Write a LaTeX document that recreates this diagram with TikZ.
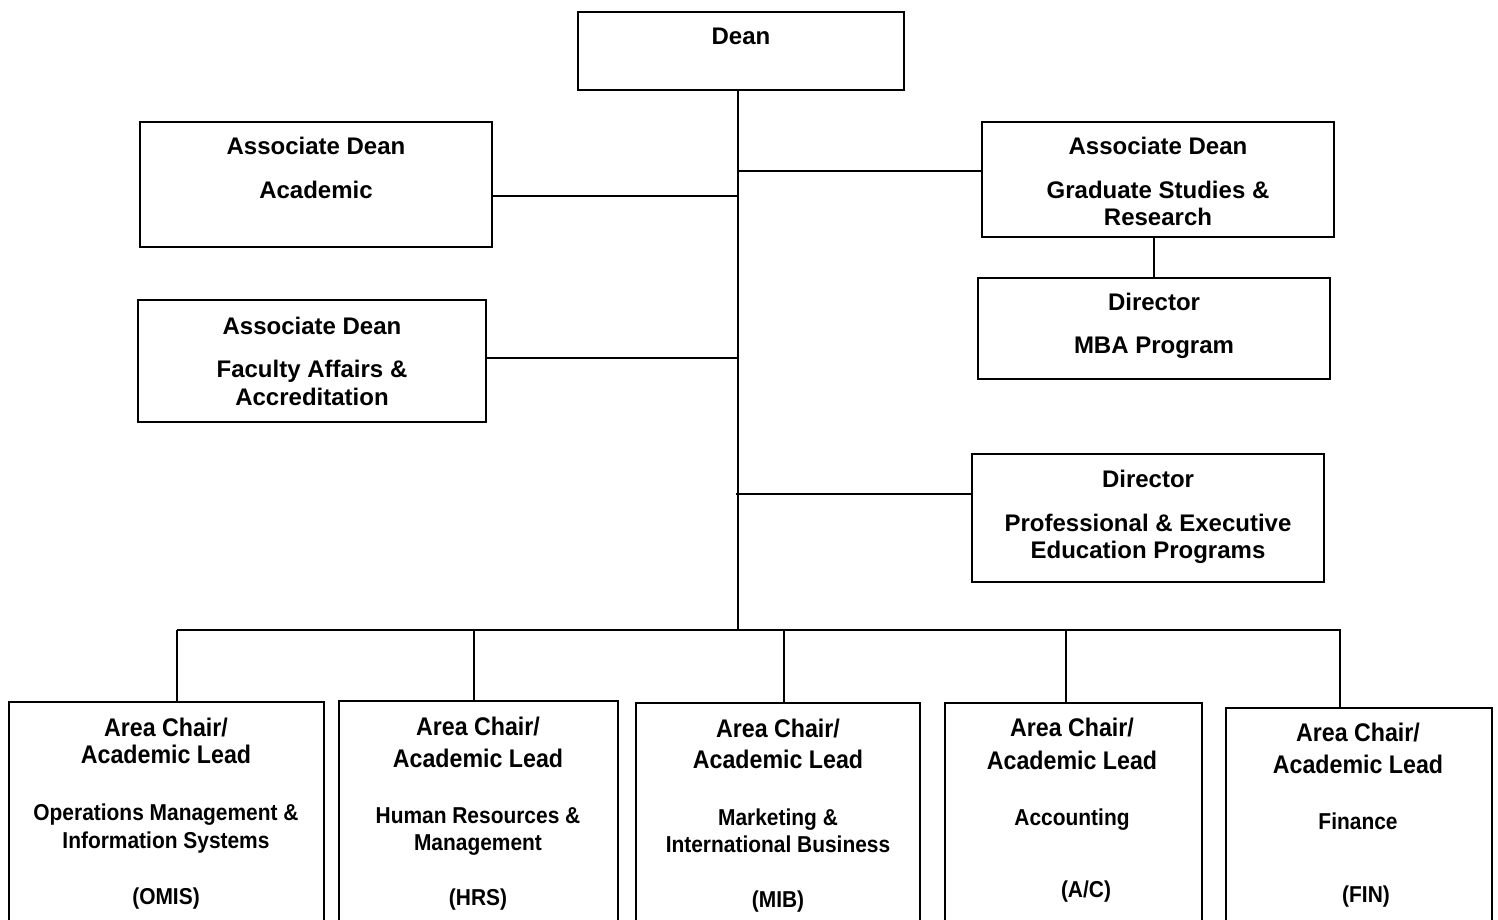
\documentclass[tikz,border=0pt]{standalone}
\usepackage{fontspec}
\setmainfont{Liberation Sans}
\newfontfamily\narrowfont[FakeStretch=0.91]{Liberation Sans}
\begin{document}
\begin{tikzpicture}[x=1pt,y=-1pt,
  box/.style={draw, line width=2pt, rectangle, inner sep=0pt},
  link/.style={draw, line width=1.8pt},
  tt/.style={inner sep=0pt, anchor=base, font=\fontsize{24}{28}\bfseries\selectfont},
  bh/.style={inner sep=0pt, anchor=base, font=\narrowfont\fontsize{25.5}{30}\bfseries\selectfont},
  bs/.style={inner sep=0pt, anchor=base, font=\narrowfont\fontsize{23}{27}\bfseries\selectfont}]
\useasboundingbox (0,0) rectangle (1498,920);
% boxes
\node[box, minimum width=326pt, minimum height=78pt] (dean) at (741,51) {};
\node[box, minimum width=352pt, minimum height=125pt] (ada) at (316,184.5) {};
\node[box, minimum width=352pt, minimum height=115pt] (adg) at (1158,179.5) {};
\node[box, minimum width=352pt, minimum height=101pt] (mba) at (1154,328.5) {};
\node[box, minimum width=348pt, minimum height=122pt] (adf) at (312,361) {};
\node[box, minimum width=352pt, minimum height=128pt] (pee) at (1148,518) {};
\node[box, minimum width=315pt, minimum height=258pt] (omis) at (166.5,831) {};
\node[box, minimum width=279pt, minimum height=258pt] (hrs) at (478.5,830) {};
\node[box, minimum width=284pt, minimum height=258pt] (mib) at (778,832) {};
\node[box, minimum width=257pt, minimum height=258pt] (ac) at (1073.5,832) {};
\node[box, minimum width=266pt, minimum height=258pt] (fin) at (1359,837) {};
% texts
\node[tt] (t0) at (741,44.6) {Dean};
\node[tt] (t1a) at (316,154.6) {Associate Dean};
\node[tt] (t1b) at (316,198.6) {Academic};
\node[tt] (t2a) at (1158,154.6) {Associate Dean};
\node[tt] (t2b) at (1158,198.6) {Graduate Studies \&};
\node[tt] (t2c) at (1158,225.6) {Research};
\node[tt] (t3a) at (1154,310.6) {Director};
\node[tt] (t3b) at (1154,353.6) {MBA Program};
\node[tt] (t4a) at (312,334.6) {Associate Dean};
\node[tt] (t4b) at (312,377.6) {Faculty Affairs \&};
\node[tt] (t4c) at (312,405.6) {Accreditation};
\node[tt] (t5a) at (1148,487.6) {Director};
\node[tt] (t5b) at (1148,531.6) {Professional \& Executive};
\node[tt] (t5c) at (1148,558.6) {Education Programs};
% bottom texts
\node[bh] (b1a) at (166,736) {Area Chair/};
\node[bh] (b1b) at (166,763) {Academic Lead};
\node[bs] (b1c) at (166,820) {Operations Management \&};
\node[bs] (b1d) at (166,848) {Information Systems};
\node[bs] (b1e) at (166,904) {(OMIS)};
\node[bh] (b2a) at (478,735) {Area Chair/};
\node[bh] (b2b) at (478,767) {Academic Lead};
\node[bs] (b2c) at (478,823) {Human Resources \&};
\node[bs] (b2d) at (478,850) {Management};
\node[bs] (b2e) at (478,905) {(HRS)};
\node[bh] (b3a) at (778,737) {Area Chair/};
\node[bh] (b3b) at (778,768) {Academic Lead};
\node[bs] (b3c) at (778,825) {Marketing \&};
\node[bs] (b3d) at (778,852) {International Business};
\node[bs] (b3e) at (778,907) {(MIB)};
\node[bh] (b4a) at (1072,736) {Area Chair/};
\node[bh] (b4b) at (1072,769) {Academic Lead};
\node[bs] (b4c) at (1072,825) {Accounting};
\node[bs] (b4e) at (1086,897) {(A/C)};
\node[bh] (b5a) at (1358,741) {Area Chair/};
\node[bh] (b5b) at (1358,773) {Academic Lead};
\node[bs] (b5c) at (1358,829) {Finance};
\node[bs] (b5e) at (1366,902) {(FIN)};
% connectors
\coordinate (sp) at (738,630);
\coordinate (ja) at (738,196);
\coordinate (jg) at (738,171);
\coordinate (jf) at (738,358);
\coordinate (jp) at (736,494);
\coordinate (bl) at (177,630);
\coordinate (br) at (1341,630);
\draw[link] (dean.south -| sp) -- (sp);
\draw[link] (ja) -- (ja -| ada.east);
\draw[link] (jg) -- (jg -| adg.west);
\draw[link] (adg.south -| 1154,0) -- (mba.north -| 1154,0);
\draw[link] (jf) -- (jf -| adf.east);
\draw[link] (jp) -- (jp -| pee.west);
\draw[link] (bl) -- (br);
\draw[link] (bl) -- (bl |- omis.north);
\draw[link] (474,630) -- (474,630 |- hrs.north);
\draw[link] (784,630) -- (784,630 |- mib.north);
\draw[link] (1066,630) -- (1066,630 |- ac.north);
\draw[link] (1340,630) -- (1340,630 |- fin.north);
\end{tikzpicture}
\end{document}
